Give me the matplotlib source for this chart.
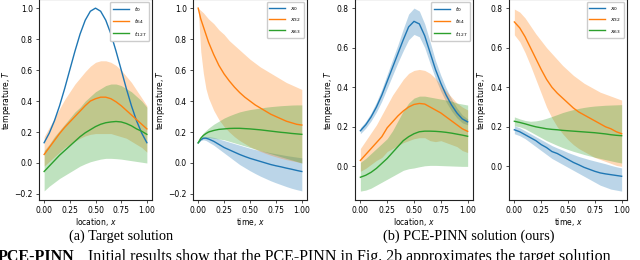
import numpy as np
import matplotlib
matplotlib.use("Agg")
import matplotlib.pyplot as plt

# ---------------- data ----------------
loc = [0.0, 0.05, 0.1, 0.15, 0.2, 0.25, 0.3, 0.35, 0.4, 0.45, 0.5,
       0.55, 0.6, 0.65, 0.7, 0.75, 0.8, 0.85, 0.9, 0.95, 1.0]
time_a = [0.0, 0.025, 0.05, 0.075, 0.1, 0.15, 0.2, 0.25, 0.3, 0.35, 0.4, 0.45,
          0.5, 0.55, 0.6, 0.65, 0.7, 0.75, 0.8, 0.85, 0.9, 0.95, 1.0]
time_b = loc

# (a) target, vs location
a_t0 = [0.131, 0.193, 0.272, 0.369, 0.481, 0.602, 0.722, 0.833, 0.922, 0.980, 1.0,
        0.980, 0.922, 0.833, 0.722, 0.602, 0.481, 0.369, 0.272, 0.193, 0.131]
a_t64 = [0.055, 0.10, 0.145, 0.19, 0.23, 0.265, 0.30, 0.335, 0.37, 0.40, 0.415,
         0.425, 0.425, 0.415, 0.395, 0.37, 0.34, 0.31, 0.28, 0.25, 0.22]
a_t64_hi = [0.17, 0.23, 0.29, 0.35, 0.41, 0.46, 0.51, 0.55, 0.59, 0.625, 0.65,
            0.66, 0.66, 0.65, 0.63, 0.60, 0.56, 0.52, 0.47, 0.42, 0.37]
a_t64_lo = [-0.02, 0.01, 0.04, 0.07, 0.10, 0.12, 0.14, 0.16, 0.175, 0.185, 0.19,
            0.19, 0.19, 0.19, 0.18, 0.17, 0.16, 0.14, 0.12, 0.10, 0.07]
a_t127 = [-0.055, -0.02, 0.015, 0.05, 0.08, 0.11, 0.14, 0.17, 0.195, 0.215, 0.235,
          0.25, 0.26, 0.265, 0.268, 0.265, 0.255, 0.24, 0.22, 0.205, 0.185]
a_t127_hi = [0.08, 0.12, 0.17, 0.21, 0.25, 0.29, 0.33, 0.36, 0.40, 0.43, 0.46,
             0.48, 0.50, 0.51, 0.51, 0.50, 0.48, 0.46, 0.43, 0.40, 0.36]
a_t127_lo = [-0.18, -0.15, -0.125, -0.10, -0.08, -0.06, -0.04, -0.02, -0.005, 0.008, 0.017,
             0.025, 0.03, 0.03, 0.028, 0.025, 0.02, 0.015, 0.01, 0.005, 0.0]

# (a) target, vs time
a_x0 = [0.13, 0.15, 0.16, 0.16, 0.155, 0.14, 0.12, 0.10, 0.085, 0.07, 0.055, 0.042,
        0.03, 0.02, 0.01, 0.0, -0.01, -0.018, -0.025, -0.033, -0.04, -0.048, -0.055]
a_x0_hi = [0.13, 0.155, 0.168, 0.17, 0.17, 0.165, 0.155, 0.145, 0.135, 0.125, 0.115, 0.105,
           0.095, 0.087, 0.08, 0.073, 0.066, 0.06, 0.054, 0.048, 0.043, 0.038, 0.033]
a_x0_lo = [0.13, 0.145, 0.15, 0.145, 0.135, 0.115, 0.09, 0.065, 0.04, 0.015, -0.01, -0.03,
           -0.05, -0.068, -0.085, -0.10, -0.115, -0.128, -0.14, -0.152, -0.163, -0.172, -0.18]
a_x32 = [1.0, 0.93, 0.88, 0.83, 0.78, 0.70, 0.63, 0.575, 0.53, 0.49, 0.455, 0.425,
         0.40, 0.375, 0.355, 0.335, 0.315, 0.30, 0.285, 0.27, 0.26, 0.25, 0.245]
a_x32_hi = [1.0, 0.985, 0.97, 0.95, 0.93, 0.90, 0.86, 0.83, 0.79, 0.76, 0.73, 0.70,
            0.67, 0.645, 0.62, 0.60, 0.58, 0.56, 0.54, 0.52, 0.505, 0.49, 0.475]
a_x32_lo = [1.0, 0.72, 0.58, 0.48, 0.42, 0.34, 0.28, 0.235, 0.20, 0.17, 0.145, 0.125,
            0.105, 0.09, 0.075, 0.062, 0.05, 0.04, 0.03, 0.022, 0.015, 0.008, 0.0]
a_x63 = [0.13, 0.16, 0.178, 0.19, 0.20, 0.21, 0.217, 0.22, 0.223, 0.224, 0.224, 0.222,
         0.22, 0.217, 0.214, 0.21, 0.206, 0.202, 0.198, 0.195, 0.191, 0.188, 0.185]
a_x63_hi = [0.13, 0.17, 0.195, 0.21, 0.225, 0.25, 0.27, 0.29, 0.305, 0.318, 0.33, 0.338,
            0.345, 0.35, 0.355, 0.36, 0.364, 0.367, 0.37, 0.372, 0.374, 0.375, 0.375]
a_x63_lo = [0.13, 0.15, 0.16, 0.165, 0.165, 0.16, 0.155, 0.15, 0.14, 0.13, 0.12, 0.11,
            0.10, 0.09, 0.08, 0.07, 0.06, 0.05, 0.04, 0.03, 0.02, 0.01, 0.0]

# (b) PCE-PINN, vs location
b_t0 = [0.18, 0.21, 0.25, 0.30, 0.36, 0.43, 0.50, 0.57, 0.64, 0.705, 0.733,
        0.72, 0.66, 0.575, 0.49, 0.42, 0.36, 0.31, 0.27, 0.24, 0.225]
b_t0_hi = [0.195, 0.227, 0.27, 0.325, 0.39, 0.465, 0.54, 0.615, 0.695, 0.77, 0.80,
           0.785, 0.72, 0.63, 0.535, 0.46, 0.395, 0.34, 0.295, 0.26, 0.24]
b_t0_lo = [0.165, 0.193, 0.23, 0.275, 0.33, 0.395, 0.46, 0.525, 0.585, 0.64, 0.667,
           0.655, 0.60, 0.52, 0.445, 0.38, 0.325, 0.28, 0.245, 0.22, 0.21]
b_t64 = [0.03, 0.06, 0.09, 0.12, 0.15, 0.195, 0.225, 0.255, 0.28, 0.30, 0.313,
         0.318, 0.315, 0.30, 0.285, 0.27, 0.25, 0.23, 0.21, 0.19, 0.177]
b_t64_hi = [0.09, 0.13, 0.17, 0.21, 0.26, 0.31, 0.36, 0.40, 0.44, 0.47, 0.485,
            0.49, 0.485, 0.47, 0.445, 0.41, 0.38, 0.35, 0.32, 0.30, 0.285]
b_t64_lo = [-0.025, -0.01, 0.01, 0.03, 0.045, 0.075, 0.09, 0.105, 0.12, 0.13, 0.14,
            0.145, 0.145, 0.13, 0.125, 0.13, 0.12, 0.11, 0.10, 0.08, 0.07]
b_t127 = [-0.055, -0.045, -0.03, -0.01, 0.015, 0.04, 0.07, 0.10, 0.13, 0.15, 0.165,
          0.175, 0.178, 0.178, 0.177, 0.175, 0.172, 0.168, 0.163, 0.158, 0.152]
b_t127_hi = [0.02, 0.04, 0.065, 0.09, 0.115, 0.14, 0.18, 0.23, 0.28, 0.32, 0.345,
             0.355, 0.355, 0.35, 0.345, 0.34, 0.335, 0.33, 0.32, 0.315, 0.31]
b_t127_lo = [-0.125, -0.12, -0.11, -0.095, -0.08, -0.065, -0.05, -0.035, -0.02, -0.012, -0.008,
             -0.002, 0.003, 0.005, 0.005, 0.004, 0.003, 0.002, 0.001, 0.0, 0.0]

# (b) PCE-PINN, vs time
b_x0 = [0.185, 0.175, 0.16, 0.145, 0.13, 0.11, 0.095, 0.075, 0.065, 0.05, 0.035,
        0.02, 0.008, -0.005, -0.015, -0.025, -0.033, -0.038, -0.042, -0.046, -0.05]
b_x0_hi = [0.205, 0.195, 0.18, 0.165, 0.15, 0.135, 0.12, 0.105, 0.093, 0.082, 0.07,
           0.06, 0.05, 0.042, 0.034, 0.027, 0.02, 0.013, 0.005, -0.002, -0.008]
b_x0_lo = [0.165, 0.155, 0.14, 0.12, 0.10, 0.08, 0.06, 0.04, 0.025, 0.01, -0.005,
           -0.02, -0.035, -0.05, -0.065, -0.08, -0.095, -0.105, -0.115, -0.12, -0.125]
b_x32 = [0.73, 0.70, 0.655, 0.60, 0.545, 0.49, 0.44, 0.40, 0.37, 0.345, 0.32,
         0.295, 0.275, 0.26, 0.245, 0.23, 0.215, 0.20, 0.19, 0.175, 0.165]
b_x32_hi = [0.795, 0.78, 0.75, 0.71, 0.67, 0.635, 0.60, 0.57, 0.54, 0.51, 0.485,
            0.46, 0.44, 0.42, 0.405, 0.39, 0.375, 0.365, 0.355, 0.345, 0.335]
b_x32_lo = [0.665, 0.63, 0.575, 0.51, 0.44, 0.37, 0.30, 0.245, 0.20, 0.165, 0.135,
            0.11, 0.09, 0.075, 0.06, 0.045, 0.035, 0.025, 0.015, 0.005, 0.0]
b_x63 = [0.228, 0.222, 0.215, 0.207, 0.20, 0.195, 0.19, 0.187, 0.185, 0.182, 0.18,
         0.178, 0.176, 0.174, 0.172, 0.17, 0.167, 0.164, 0.16, 0.157, 0.155]
b_x63_hi = [0.25, 0.24, 0.232, 0.228, 0.23, 0.235, 0.243, 0.252, 0.262, 0.272, 0.28,
            0.287, 0.293, 0.298, 0.302, 0.305, 0.307, 0.309, 0.31, 0.311, 0.312]
b_x63_lo = [0.205, 0.20, 0.19, 0.175, 0.16, 0.145, 0.13, 0.118, 0.106, 0.095, 0.085,
            0.076, 0.068, 0.06, 0.053, 0.046, 0.04, 0.034, 0.028, 0.022, 0.017]

labels_loc = [r'$t_0$', r'$t_{64}$', r'$t_{127}$']
labels_time = [r'$x_0$', r'$x_{32}$', r'$x_{63}$']
xticks = [0.0, 0.25, 0.5, 0.75, 1.0]
captions = ['(a) Target solution', '(b) PCE-PINN solution (ours)']

# ---------------- figure ----------------
W, H = 640, 260
fig = plt.figure(figsize=(6.4, 2.6), dpi=100)
C = ['#1f77b4', '#ff7f0e', '#2ca02c']
FS = 5.5

def px_axes(x0, x1, ytop, ybot):
    return fig.add_axes([x0 / W, 1 - ybot / H, (x1 - x0) / W, (ybot - ytop) / H])

panels = [
    (px_axes(39, 152, -1, 200), loc,
     [(a_t0, None, None), (a_t64, a_t64_lo, a_t64_hi), (a_t127, a_t127_lo, a_t127_hi)],
     labels_loc, 'location, $x$', (-0.239, 1.059), -0.23),
    (px_axes(193, 307, -1, 200), time_a,
     [(a_x0, a_x0_lo, a_x0_hi), (a_x32, a_x32_lo, a_x32_hi), (a_x63, a_x63_lo, a_x63_hi)],
     labels_time, 'time, $x$', (-0.239, 1.059), -0.228),
    (px_axes(355, 473, -1, 200), loc,
     [(b_t0, b_t0_lo, b_t0_hi), (b_t64, b_t64_lo, b_t64_hi), (b_t127, b_t127_lo, b_t127_hi)],
     labels_loc, 'location, $x$', (-0.17, 0.846), -0.17),
    (px_axes(509, 627, -1, 200), time_b,
     [(b_x0, b_x0_lo, b_x0_hi), (b_x32, b_x32_lo, b_x32_hi), (b_x63, b_x63_lo, b_x63_hi)],
     labels_time, 'time, $x$', (-0.17, 0.846), -0.178),
]

for ax, xs, series, labs, xlabel, ylim, ylx in panels:
    for (m, lo, hi), c, lab in zip(series, C, labs):
        ax.plot(xs, m, color=c, lw=1.0, label=lab)
        if lo is not None:
            ax.fill_between(xs, lo, hi, color=c, alpha=0.3, lw=0)
    ax.set_xlim(-0.05, 1.05)
    ax.set_ylim(*ylim)
    ax.set_xticks(xticks)
    ax.tick_params(labelsize=FS, length=2.5, width=0.6, pad=2, color='#333333')
    for s in ax.spines.values():
        s.set_linewidth(0.8)
        s.set_color('#222222')
    ax.set_xlabel(xlabel, fontsize=FS)
    ax.set_ylabel('temperature, $T$', fontsize=FS)
    ax.yaxis.set_label_coords(ylx, 0.5)
    ax.xaxis.set_label_coords(0.5, -0.082)
    ax.legend(loc='upper right', fontsize=4.5, handlelength=2.5, borderpad=0.45,
              labelspacing=0.55, handletextpad=0.8, framealpha=1.0,
              borderaxespad=0.5)

fig.text(121 / W, 1 - 236 / H, captions[0], ha='center', va='center',
         family='Liberation Serif', fontsize=10.3)
fig.text(469 / W, 1 - 236 / H, captions[1], ha='center', va='center',
         family='Liberation Serif', fontsize=10.3)
fig.text(-2 / W, 1 - 249 / H, 'PCE-PINN', ha='left', va='top',
         family='Liberation Serif', fontsize=11.5, fontweight='bold')
fig.text(88 / W, 1 - 249 / H,
         'Initial results show that the PCE-PINN in Fig. 2b approximates the target solution',
         ha='left', va='top', family='Liberation Serif', fontsize=11.5)

fig.savefig('out.png', dpi=100)
